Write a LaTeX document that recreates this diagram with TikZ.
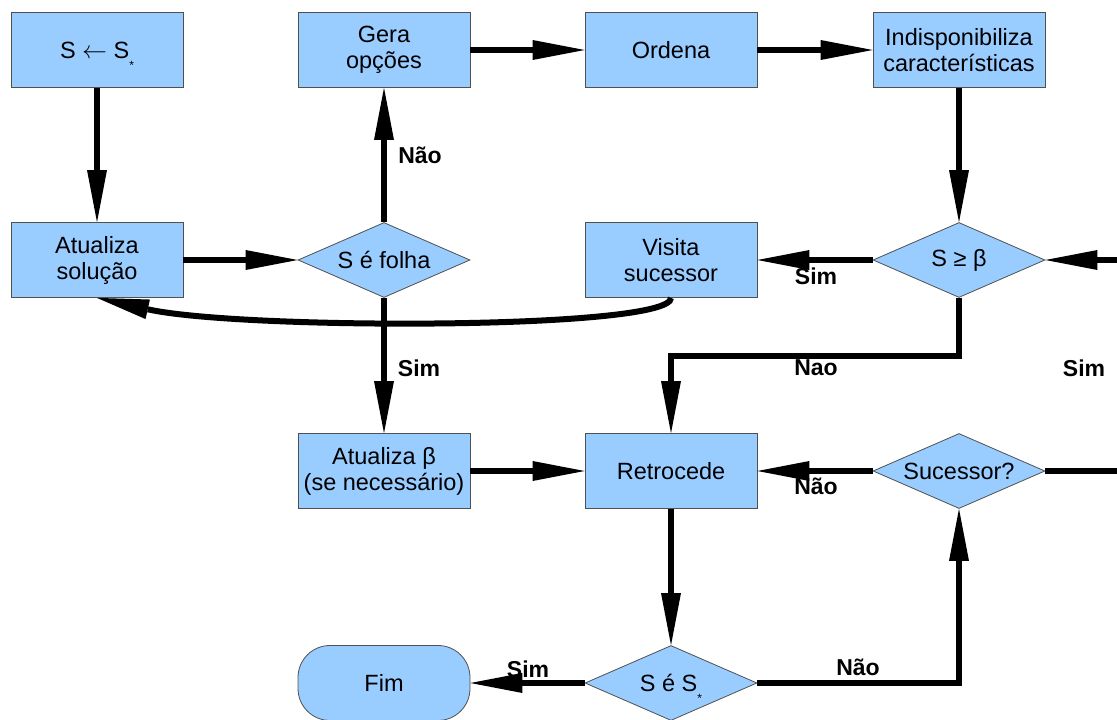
\documentclass[tikz,border=0pt]{standalone}
\usepackage{fontspec}
\setmainfont{Liberation Sans}
\usetikzlibrary{shapes.geometric,arrows.meta}
\definecolor{boxblue}{RGB}{153,204,255}
\definecolor{edgegray}{RGB}{80,80,80}
\newcommand{\starsub}{\raisebox{-11pt}[0pt][0pt]{\fontsize{12}{12}\selectfont *}}
\begin{document}
\begin{tikzpicture}[x=1pt,y=-1pt,
  every node/.style={font=\fontsize{23.5}{26}\selectfont},
  procbox/.style={rectangle, draw=edgegray, line width=0.8pt, fill=boxblue,
    minimum width=172pt, minimum height=75pt, inner sep=0pt, align=center},
  decide/.style={diamond, aspect=2.3, draw=edgegray, line width=0.8pt, fill=boxblue,
    minimum width=172pt, minimum height=75pt, inner sep=0pt, align=center},
  termbox/.style={rectangle, rounded corners=32pt, draw=edgegray, line width=0.8pt,
    fill=boxblue, minimum width=172pt, minimum height=75pt, inner sep=0pt},
  flow/.style={line width=6pt, -{Triangle[length=52pt,width=20pt,line width=0pt]}},
  lbl/.style={font=\fontsize{23}{25}\selectfont\bfseries, inner sep=0pt}
]
\useasboundingbox (0,0) rectangle (1117,720);
\clip (0,0) rectangle (1117,720);

% nodes
\node[procbox] (init)   at (97,50)  {S $\leftarrow$ S\starsub};
\node[procbox] (gera)   at (384,50) {Gera\\opções};
\node[procbox] (ordena) at (671,50) {Ordena};
\node[procbox] (indisp) at (959,50) {Indisponibiliza\\características};

\node[procbox] (sol)    at (97,260)  {Atualiza\\solução};
\node[decide]  (folha)  at (384,260) {S é folha};
\node[procbox] (visita) at (671,260) {Visita\\sucessor};
\node[decide]  (sge)    at (959,260) {S ≥ β};

\node[procbox] (atb)    at (384,471) {Atualiza β\\(se necessário)};
\node[procbox] (retro)  at (671,471) {Retrocede};
\node[decide]  (suc)    at (959,471) {Sucessor?};

\node[termbox] (fim)    at (384,683) {Fim};
\node[decide]  (ses)    at (671,683) {S é S\starsub};

% helper coordinates
\coordinate (bend) at (959,356);
\coordinate (rb) at (1160,471);
\coordinate (rt) at (1160,260);

% connectors
\draw[flow] (init) -- (sol);
\draw[flow] (sol) -- (folha);
\draw[flow] (folha) -- (gera);
\draw[flow] (gera) -- (ordena);
\draw[flow] (ordena) -- (indisp);
\draw[flow] (indisp) -- (sge);
\draw[flow] (sge) -- (visita);
\draw[flow] (visita.south) .. controls (671,330) and (240,330) .. (sol.south);
\draw[flow] (folha) -- (atb);
\draw[flow] (sge.south) -- (bend) -| (retro.north);
\draw[flow] (atb) -- (retro);
\draw[flow] (suc) -- (retro);
\draw[flow] (retro) -- (ses);
\draw[flow] (ses) -- (fim);
\draw[flow] (ses.east) -| (suc.south);
\draw[flow] (suc.east) -- (rb) -- (rt) -- (sge.east);

% labels
\node[lbl] (l1) at (420,155) {Não};
\node[lbl] (l2) at (419,368) {Sim};
\node[lbl] (l3) at (816,276) {Sim};
\node[lbl] (l4) at (816,368) {Nao};
\node[lbl] (l5) at (1084,368) {Sim};
\node[lbl] (l6) at (816,486) {Não};
\node[lbl] (l7) at (528,669) {Sim};
\node[lbl] (l8) at (858,667) {Não};
\end{tikzpicture}
\end{document}
